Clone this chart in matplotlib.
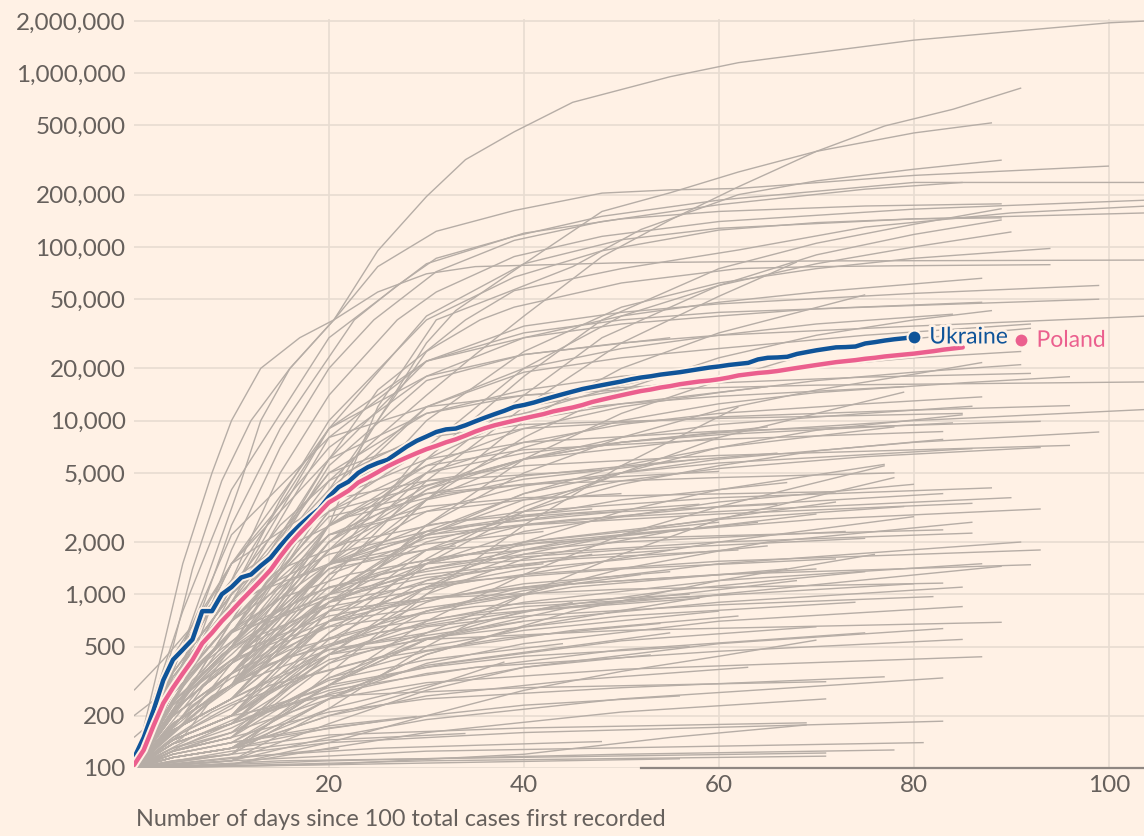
import matplotlib
matplotlib.use("Agg")
import matplotlib.pyplot as plt
import matplotlib.patheffects as pe
from matplotlib.ticker import FixedLocator, FuncFormatter, NullLocator

# ---------------- data ----------------
y_ticks = [100, 200, 500, 1000, 2000, 5000, 10000, 20000, 50000, 100000,
           200000, 500000, 1000000, 2000000]
x_ticks = [20, 40, 60, 80, 100]
x_label = "Number of days since 100 total cases first recorded"

ukraine_cases = [114, 150, 215, 320, 420, 480, 550, 800, 800, 1000, 1100, 1250, 1300, 1460,
                 1620, 1900, 2200, 2500, 2800, 3100, 3650, 4150, 4450, 5000, 5400, 5700, 5950,
                 6500, 7100, 7650, 8100, 8600, 8900, 9000, 9400, 9900, 10400, 10900, 11400,
                 12000, 12300, 12700, 13200, 13700, 14200, 14700, 15200, 15600, 16000, 16400,
                 16800, 17300, 17700, 18000, 18400, 18700, 19000, 19400, 19800, 20200, 20500,
                 20900, 21200, 21500, 22500, 23000, 23100, 23300, 24200, 24800, 25400, 25900,
                 26400, 26500, 26700, 27800, 28300, 28900, 29400, 29800, 30300]
poland_cases = [104, 127, 175, 236, 290, 350, 419, 522, 600, 700, 800, 920, 1050, 1200, 1380,
                1650, 1950, 2250, 2570, 2950, 3380, 3650, 3950, 4400, 4700, 5050, 5450, 5800,
                6150, 6500, 6850, 7150, 7500, 7800, 8200, 8650, 9050, 9400, 9700, 10000, 10300,
                10600, 10900, 11300, 11600, 11900, 12300, 12800, 13200, 13600, 14000, 14400,
                14800, 15100, 15500, 15800, 16200, 16500, 16800, 17000, 17300, 17700, 18200,
                18500, 18800, 19000, 19300, 19700, 20100, 20500, 20900, 21300, 21700, 22000,
                22300, 22700, 23000, 23400, 23700, 24000, 24300, 24700, 25100, 25600, 26000,
                26400]
poland_label_day = 91
poland_label_value = 29000

# grey country lines: (day, cumulative cases)
grey_large = [
    [(0,100),(2,200),(5,500),(8,1500),(11,4500),(13,10000),(16,20000),(20.5,38000),(25,95000),(30,195000),(34,318000),(39,460000),(45,680000),(55,955000),(62,1150000),(80,1550000),(100,1950000),(104,2000000)],
    [(0,100),(2,180),(5,350),(10,1100),(15,2500),(20,4500),(25,8000),(30,14000),(35,24000),(40,40000),(48,88000),(55,143000),(62,222000),(70,355000),(77,497000),(84,620000),(91,822000)],
    [(0,100),(2,150),(5,250),(10,600),(15,1500),(20,3500),(25,10000),(30,28000),(33,43000),(40,80000),(48,160000),(55,205000),(62,270000),(70,355000),(80,453000),(88,518000)],
    [(0,100),(4,180),(10,300),(15,900),(20,2500),(25,12000),(31,38000),(38,54000),(45,77000),(52,126000),(62,200000),(70,240000),(80,280000),(89,316000)],
    [(0,100),(2,220),(4,500),(6,1400),(9,4500),(12,10000),(16,20000),(20.5,38000),(25,77000),(31,123000),(39,162000),(48,204000),(55,213000),(62,217000),(80,258000),(100,292000)],
    [(0,100),(2,200),(5,400),(10,2500),(15,9000),(22.6,38000),(27,60000),(31,86000),(39,115000),(48,150000),(60,186000),(80,235000),(104,235000)],
    [(0,100),(2,160),(5,300),(10,1800),(15,7000),(20,20000),(24.6,38000),(31,72000),(39,109000),(48,140000),(60,175000),(75,215000),(85,235000)],
    [(0,100),(4,390),(10,1200),(15,5000),(20,14000),(27,38000),(31,55000),(39,88000),(48,115000),(60,140000),(80,165000),(104,186000)],
    [(0,100),(4,355),(10,1000),(15,3500),(20,10000),(30,38000),(39,67000),(48,95000),(60,125000),(70,138000),(80,145000),(89,147000)],
    [(0,100),(4,290),(10,700),(20,6000),(25,15000),(34,38000),(39,56000),(50,75000),(62,96000),(75,130000),(90,157000),(104,172000)],
    [(0,100),(4,240),(10,500),(20,4000),(30,25000),(35.5,38000),(39,45000),(50,62000),(62,75000),(70,77000),(80,78000),(94,79000)],
    [(0,100),(3,500),(5,1500),(8,5000),(10,10000),(13,20000),(17,30000),(20.5,38000),(25,55000),(30,70000),(35,77000),(50,81000),(70,83000),(104,84000)],
    [(0,100),(4,215),(10,400),(20,1800),(30,6000),(40,18000),(48,38000),(60,75000),(70,105000),(80,135000),(89,166000)],
    [(0,100),(4,200),(10,350),(20,1500),(30,5000),(40,14000),(48,30000),(60,60000),(70,90000),(80,118000),(89,143000)],
    [(0,100),(4,180),(10,300),(20,1500),(30,7000),(40,20000),(50,40000),(60,60000),(70,80000),(80,100000),(90,122000)],
    [(0,100),(4,215),(10,400),(20,2500),(30,10000),(40,25000),(50,45000),(60,62000),(70,75000),(80,86000),(94,98000)],
    [(0,100),(4,180),(10,300),(20,1200),(30,4500),(40,12000),(50,28000),(60,52000),(68,82000)],
    [(0,100),(4,315),(10,800),(20,6000),(30,22000),(40,35000),(50,42000),(60,47000),(80,54000),(99,60000)],
    [(0,100),(4,165),(10,250),(20,1000),(30,3500),(40,10000),(50,20000),(60,32000),(75,53000)],
    [(0,100),(4,335),(10,900),(20,8000),(30,22000),(40,32000),(50,38000),(60,42000),(80,46000),(99,50000)],
    [(0,100),(4,290),(10,700),(20,5500),(30,17000),(40,24000),(50,28000),(60,31000),(80,35000),(104,40000)],
    [(0,100),(4,240),(10,500),(20,3500),(30,12000),(40,19000),(50,23000),(60,26000),(75,31000),(92,36000)],
    [(0,100),(2,250),(5,800),(10,4000),(20,30000),(30,80000),(40,120000),(50,145000),(60,160000),(75,172000),(89,177000)],
    [(0,100),(4,355),(10,1000),(20,9000),(30,40000),(40,80000),(50,110000),(60,128000),(80,145000),(104,157000)],
]

grey_mid = [
    [(0,100),(5,300),(10,900),(20,3500),(30,8000),(40,12000),(50,15000),(60,18000),(70,20500),(80,23000),(91,25000)],
    [(0,100),(5,250),(10,700),(20,2500),(30,5500),(40,9000),(50,12000),(60,14500),(70,17000),(80,19000),(91,21000)],
    [(0,100),(5,400),(10,1500),(20,6000),(30,11000),(40,14000),(50,15500),(60,16500),(75,17800),(92,18700)],
    [(0,100),(5,180),(10,400),(20,1500),(30,4000),(40,7000),(50,10000),(60,12500),(70,14500),(85,16500),(96,17900)],
    [(0,100),(5,500),(10,2200),(20,8000),(30,12000),(40,14000),(50,15000),(70,16000),(104,16700)],
    [(0,100),(5,300),(10,1000),(20,4000),(30,7000),(40,9000),(60,10500),(80,11500),(96,12200)],
    [(0,100),(5,200),(10,500),(20,1800),(30,4000),(40,6000),(50,7500),(60,8500),(80,10000),(104,11600)],
    [(0,100),(5,350),(10,1100),(20,3500),(30,6000),(40,7500),(60,8700),(93,9900)],
    [(0,100),(5,150),(10,350),(20,1000),(30,2300),(40,3800),(50,5000),(60,6000),(80,7500),(99,8600)],
    [(0,100),(5,250),(10,700),(20,2500),(30,4500),(40,5500),(60,6300),(96,7200)],
    [(0,100),(4,180),(10,300),(20,1000),(30,2200),(40,3500),(50,4500),(60,5300),(75,6200),(93,7000)],
    [(0,100),(5,400),(10,1500),(20,7000),(30,18000),(40,30000),(50,40000),(60,48000),(70,55000),(87,66000)],
    [(0,100),(4,390),(10,1200),(20,9000),(30,22000),(40,30000),(50,36000),(60,40000),(70,44000),(87,48000)],
    [(0,100),(4,165),(10,250),(20,1000),(30,3500),(40,8000),(50,15000),(60,23000),(70,31000),(80,38000),(88,43000)],
    [(0,100),(4,270),(10,600),(20,4000),(30,12000),(40,20000),(50,26000),(60,31000),(70,36000),(84,41000)],
    [(0,100),(4,215),(10,400),(20,2000),(30,6000),(40,11000),(50,16000),(60,21000),(75,28000),(92,34000)],
    [(0,100),(4,145),(10,200),(20,800),(30,2500),(40,5000),(50,8000),(60,11500),(70,15000),(80,18500),(87,21600)],
    [(0,100),(4,315),(10,800),(20,4500),(30,8500),(40,11000),(50,12500),(60,13800),(79,15700)],
    [(0,100),(4,125),(10,150),(20,500),(30,1500),(40,3000),(50,5000),(60,8000),(70,11000),(79,14600)],
    [(0,100),(4,215),(10,400),(20,2000),(30,5000),(40,7500),(50,9500),(60,11000),(75,12500),(87,13700)],
    [(0,100),(4,180),(10,300),(20,1300),(30,3500),(40,6000),(50,8000),(60,9500),(75,11000),(86,12100)],
    [(0,100),(4,355),(10,1000),(20,5000),(30,8000),(40,9500),(60,10300),(85,11000)],
    [(0,100),(4,138),(10,180),(20,600),(30,1600),(40,3200),(50,5000),(60,7000),(70,8800),(85,10800)],
    [(0,100),(4,240),(10,500),(20,2500),(30,5000),(40,6500),(50,7500),(60,8300),(84,9700)],
    [(0,100),(4,165),(10,250),(20,900),(30,2200),(40,3800),(50,5500),(60,7000),(78,9200)],
    [(0,100),(4,270),(10,600),(20,3000),(30,5500),(40,6800),(60,7800),(83,8650)],
    [(0,100),(4,145),(10,200),(20,700),(30,1800),(40,3000),(50,4300),(60,5500),(70,6700),(83,7800)],
    [(0,100),(4,200),(10,350),(20,1500),(30,3000),(40,4200),(50,5000),(60,5700),(86,6900)],
    [(0,100),(4,125),(10,150),(20,450),(30,1100),(40,2000),(50,3000),(60,4000),(77,5600)],
    [(0,100),(4,290),(10,700),(20,2800),(30,3800),(40,4300),(60,4700),(78,5000)],
    [(0,100),(4,240),(10,500),(20,2000),(30,4200),(40,6000),(50,7500),(65,9200)],
    [(0,100),(4,270),(10,600),(20,3000),(30,7000),(40,10000),(50,12500),(65,15700)],
    [(0,100),(4,335),(10,900),(20,5000),(30,11000),(40,15000),(50,18000),(60,20000)],
    [(0,100),(4,440),(10,1500),(20,9000),(30,18000),(40,24000),(55,30000)],
    [(0,100),(4,215),(10,400),(20,1800),(30,3500),(40,4600),(58,6000)],
    [(0,100),(4,145),(10,200),(20,800),(30,2500),(40,6000),(50,11000),(60,17000),(70,25000)],
    [(0,100),(4,110),(10,120),(20,350),(30,1000),(40,2500),(50,5500),(62,12000)],
    [(0,280),(3,420),(10,1200),(20,3000),(40,6000),(60,8000)],
]

grey_low = [
    [(0,100),(4,215),(10,400),(20,1500),(30,2500),(40,3000),(60,3600),(88,4100)],
    [(0,100),(4,145),(10,200),(20,600),(30,1200),(40,1800),(50,2200),(70,2700),(93,3100)],
    [(0,100),(4,180),(10,300),(20,900),(30,1400),(40,1700),(60,2000),(86,2250)],
    [(0,100),(4,125),(10,150),(20,400),(30,800),(40,1100),(60,1500),(91,2000)],
    [(0,100),(4,165),(10,250),(20,700),(30,1100),(40,1300),(60,1550),(93,1800)],
    [(0,100),(4,165),(10,250),(20,900),(30,1800),(40,2500),(60,3200),(83,3800)],
    [(0,100),(4,200),(10,350),(20,1300),(30,2100),(40,2500),(60,2900),(86,3340)],
    [(0,100),(4,115),(10,130),(20,300),(30,600),(40,1000),(50,1400),(65,2000),(86,2600)],
    [(0,100),(4,240),(10,500),(20,1400),(30,1800),(50,2100),(83,2350)],
    [(0,100),(4,115),(10,130),(20,300),(30,700),(40,1300),(50,2200),(60,3200),(77,5500)],
    [(0,100),(10,110),(20,220),(30,500),(40,1000),(50,1700),(60,2700),(78,4700)],
    [(0,100),(4,180),(10,300),(20,1000),(30,2000),(40,2800),(50,3500),(67,4400)],
    [(0,100),(4,270),(10,600),(20,2200),(30,3200),(40,3600),(72,3900)],
    [(0,100),(4,138),(10,180),(20,550),(30,1100),(40,1700),(55,2500),(72,3400)],
    [(0,100),(4,120),(10,140),(20,300),(30,550),(40,800),(55,1050),(75,1350)],
    [(0,100),(4,180),(10,300),(20,700),(30,950),(40,1100),(60,1300),(92,1480)],
    [(0,100),(4,145),(10,200),(20,450),(30,700),(40,900),(60,1200),(87,1500)],
    [(0,100),(4,110),(10,120),(20,250),(30,450),(40,650),(60,1000),(89,1450)],
    [(0,100),(4,215),(10,400),(20,800),(30,950),(50,1070),(83,1160)],
    [(0,100),(4,125),(10,150),(20,330),(30,550),(40,700),(60,900),(85,1100)],
    [(0,100),(4,145),(10,200),(20,450),(30,650),(40,750),(60,870),(82,970)],
    [(0,100),(4,115),(10,130),(20,250),(30,400),(40,520),(60,700),(85,850)],
    [(0,100),(4,165),(10,250),(20,450),(30,550),(50,620),(89,690)],
    [(0,100),(10,110),(20,180),(30,280),(40,380),(60,520),(83,635)],
    [(0,100),(10,105),(20,140),(30,200),(40,280),(50,360),(60,440),(70,545)],
    [(0,100),(4,138),(10,180),(20,300),(30,380),(40,440),(57,500)],
    [(0,100),(4,130),(10,160),(20,250),(30,310),(50,370),(87,437)],
    [(0,100),(4,115),(10,130),(20,220),(30,300),(40,380),(53,448)],
    [(0,100),(4,125),(10,150),(20,210),(30,250),(50,290),(77,335)],
    [(0,100),(10,110),(20,150),(30,190),(50,250),(83,330)],
    [(0,100),(4,145),(10,200),(20,260),(40,290),(71,314)],
    [(0,100),(4,115),(10,130),(20,170),(30,200),(40,230),(56,260)],
    [(0,100),(10,105),(20,130),(30,160),(50,210),(71,250)],
    [(0,100),(4,120),(10,140),(20,175),(29,198)],
    [(0,100),(10,120),(20,140),(40,160),(83,186)],
    [(0,100),(4,115),(10,130),(20,155),(40,170),(69,182)],
    [(0,100),(20,105),(40,120),(55,150),(69,177)],
    [(0,100),(10,125),(20,145),(34,158)],
    [(0,100),(10,115),(25,130),(48,142)],
    [(0,100),(10,110),(30,125),(81,140)],
    [(0,100),(20,110),(50,120),(78,127)],
    [(0,100),(15,110),(71,122)],
    [(0,100),(30,110),(71,117)],
    [(0,100),(56,113)],
    [(0,100),(21,100)],
    [(0,100),(4,120),(10,140),(25,185)],
    [(0,100),(21,130)],
]

grey_fan = [
    [(0,100),(4,180),(10,300),(20,900),(30,1500),(40,2000),(60,2600)],
    [(0,100),(4,165),(10,250),(20,700),(30,1100),(40,1400),(65,1900)],
    [(0,100),(4,145),(10,200),(20,500),(30,800),(40,1050),(52,1300)],
    [(0,100),(4,125),(10,160),(20,450),(30,1000),(40,1600),(55,2300),(70,2900)],
    [(0,100),(4,138),(10,180),(20,400),(30,600),(45,900)],
    [(0,100),(4,125),(10,160),(20,330),(30,470),(45,620),(62,750)],
    [(0,100),(4,200),(10,350),(20,1100),(30,1500),(50,1800),(75,2100)],
    [(0,100),(4,215),(10,400),(20,1400),(30,2300),(40,2800),(58,3300)],
    [(0,100),(4,150),(10,220),(20,700),(30,1500),(40,2300),(60,3400),(80,4300)],
    [(0,100),(4,180),(10,300),(20,800),(30,1200),(47,1700)],
    [(0,100),(4,115),(10,130),(20,300),(30,550),(45,850),(68,1200)],
    [(0,100),(4,120),(10,140),(20,270),(30,390),(55,600)],
    [(0,100),(4,145),(10,200),(20,420),(30,560),(50,750),(74,900)],
    [(0,100),(4,270),(10,600),(20,1500),(30,1950),(42,2300)],
    [(0,100),(4,290),(10,700),(20,2200),(30,3000),(40,3500),(50,3800)],
    [(0,100),(4,240),(10,500),(20,2200),(30,3800),(40,4800),(55,5800),(66,6500)],
    [(0,100),(4,138),(10,180),(20,500),(30,900),(40,1300),(60,2000),(80,2800)],
    [(0,100),(4,115),(10,130),(20,200),(30,260),(45,320),(63,380)],
    [(0,100),(4,130),(10,170),(20,320),(30,420),(44,520)],
    [(0,100),(4,115),(10,130),(20,200),(30,290),(38,408)],
    [(0,100),(4,230),(10,450),(20,1500),(30,2200),(45,2700),(65,3100),(90,3600)],
    [(0,100),(5,200),(10,350),(20,650),(35,850),(57,1000)],
    [(0,100),(10,120),(20,250),(30,450),(45,800),(60,1200),(76,1700)],
    [(0,100),(5,500),(10,1500),(20,3500),(30,4500),(48,5200)],
    [(0,100),(5,250),(10,500),(20,850),(35,1200)],
    [(0,100),(4,165),(10,250),(20,480),(40,700)],
    [(0,100),(5,180),(10,300),(20,480),(30,600)],
    [(0,100),(4,138),(10,180),(20,280),(35,380),(60,470),(85,550)],
    [(0,100),(4,215),(10,400),(20,900),(30,1150),(50,1400),(72,1600)],
    [(0,100),(5,400),(10,900),(20,1500),(33,1900)],
    [(0,200),(5,330),(10,600),(20,1100),(35,1500),(55,1800)],
    [(0,150),(5,260),(10,420),(20,700),(40,1000)],
]

grey_fan_extra = [
    [(0,100),(2,160),(4,250),(7,400),(12,650),(20,1000),(30,1300),(45,1600),(62,1800)],
    [(0,100),(2,140),(4,200),(7,320),(12,500),(20,750),(30,950),(45,1150),(70,1400)],
    [(0,100),(2,180),(4,300),(7,550),(12,1000),(20,1700),(30,2300),(45,2900),(66,3300)],
    [(0,100),(2,130),(4,170),(8,260),(14,400),(22,560),(35,760),(55,950),(80,1150)],
    [(0,100),(2,120),(5,160),(10,230),(18,340),(28,480),(40,620),(60,800)],
    [(0,100),(3,200),(6,380),(10,700),(16,1200),(25,1900),(35,2500),(50,3000)],
    [(0,100),(3,150),(6,230),(10,330),(16,480),(25,650),(40,850),(61,1000)],
    [(0,100),(3,170),(6,290),(10,480),(16,800),(25,1300),(40,2000),(60,2700),(79,3200)],
    [(0,100),(2,125),(5,180),(9,280),(15,420),(25,600),(40,800),(58,950)],
    [(0,100),(3,220),(6,450),(10,850),(15,1400),(22,2000),(32,2600),(47,3100)],
    [(0,100),(2,115),(6,150),(12,210),(20,290),(32,400),(50,540),(70,650)],
    [(0,100),(3,160),(7,300),(12,520),(20,900),(30,1400),(44,2000),(64,2600)],
    [(0,100),(2,150),(5,260),(9,450),(14,700),(20,950),(30,1250),(42,1500)],
    [(0,100),(3,190),(6,360),(10,620),(15,950),(22,1300),(32,1650),(50,2000),(73,2300)],
    [(0,100),(2,110),(5,135),(10,180),(18,250),(30,350),(50,480),(75,600)],
    [(0,100),(3,140),(7,220),(12,350),(20,560),(30,800),(45,1100),(67,1400)],
    [(0,100),(3,230),(6,500),(10,1000),(15,1800),(22,2800),(32,3800),(45,4600),(60,5100)],
    [(0,100),(2,130),(5,200),(9,320),(15,520),(25,820),(40,1150),(55,1350)],
    [(0,100),(3,180),(6,320),(11,600),(18,1000),(28,1500),(42,2000),(57,2400)],
    [(0,100),(2,120),(4,150),(8,210),(14,300),(24,420),(38,560),(54,680)],
]

axis_line_start_day = 52

# ---------------- style ----------------
BG = "#fff1e5"
GRID = "#e8dcd1"
GREY = "#b6ada6"
TEXT = "#66605c"
BLUE = "#0f5499"
PINK = "#eb5f8e"
FONT = ["Lato", "DejaVu Sans"]
plt.rcParams["font.family"] = FONT

fig = plt.figure(figsize=(11.44, 8.36), dpi=100, facecolor=BG)
W, H = 1144, 836
left_px, right_px, bottom_px, top_px = 134, 1144, 768, 19
ax = fig.add_axes([left_px / W, 1 - bottom_px / H,
                   (right_px - left_px) / W, (bottom_px - top_px) / H])
ax.set_facecolor(BG)
ax.set_yscale("log")
px_per_day = 9.75
px_per_decade = 173.7
ax.set_xlim(0, (right_px - left_px) / px_per_day)
ax.set_ylim(100, 10 ** (2 + (bottom_px - top_px) / px_per_decade))

for group in (grey_low, grey_fan, grey_fan_extra, grey_mid, grey_large):
    for series in group:
        d, v = zip(*series)
        ax.plot(d, v, color=GREY, lw=1.0, zorder=3, solid_joinstyle="round",
                solid_capstyle="butt")

halo = [pe.Stroke(linewidth=6, foreground=BG), pe.Normal()]
u_days = list(range(len(ukraine_cases)))
p_days = list(range(len(poland_cases)))
ax.plot(u_days, ukraine_cases, color=BLUE, lw=3.2, zorder=5, path_effects=halo,
        solid_joinstyle="round", solid_capstyle="round")
ax.plot(p_days, poland_cases, color=PINK, lw=3.2, zorder=6, path_effects=halo,
        solid_joinstyle="round", solid_capstyle="round")

ax.plot([u_days[-1]], [ukraine_cases[-1]], "o", color=BLUE, ms=10, mec=BG, mew=1.5, zorder=7)
ax.plot([poland_label_day], [poland_label_value], "o", color=PINK, ms=10, mec=BG, mew=1.5, zorder=7)

label_halo = [pe.withStroke(linewidth=4, foreground=BG)]
ax.annotate("Ukraine", (u_days[-1], ukraine_cases[-1]), xytext=(11, 0),
            textcoords="offset points", va="center", ha="left", color=BLUE,
            fontsize=16.5, zorder=8, path_effects=label_halo)
ax.annotate("Poland", (poland_label_day, poland_label_value), xytext=(11, 0),
            textcoords="offset points", va="center", ha="left", color=PINK,
            fontsize=16.5, zorder=8, path_effects=label_halo)

# axes styling
ax.yaxis.set_major_locator(FixedLocator(y_ticks))
ax.yaxis.set_minor_locator(NullLocator())
ax.yaxis.set_major_formatter(FuncFormatter(lambda v, p: f"{int(round(v)):,}"))
ax.xaxis.set_major_locator(FixedLocator(x_ticks))
ax.xaxis.set_minor_locator(NullLocator())
ax.grid(True, which="major", color=GRID, lw=1.2)
ax.set_axisbelow(True)
ax.tick_params(axis="both", length=0, labelsize=17.5, labelcolor=TEXT)
ax.tick_params(axis="y", pad=6)
ax.tick_params(axis="x", pad=5)
for s in ("top", "right", "left"):
    ax.spines[s].set_visible(False)
ax.spines["bottom"].set_color("#8f8782")
ax.spines["bottom"].set_linewidth(1.6)
ax.spines["bottom"].set_bounds(axis_line_start_day, ax.get_xlim()[1])
ax.spines["bottom"].set_zorder(4)

fig.text(136 / W, 1 - 820 / H, x_label, ha="left", va="center", color=TEXT, fontsize=16.8)

fig.savefig("out.png", dpi=100, facecolor=BG)
